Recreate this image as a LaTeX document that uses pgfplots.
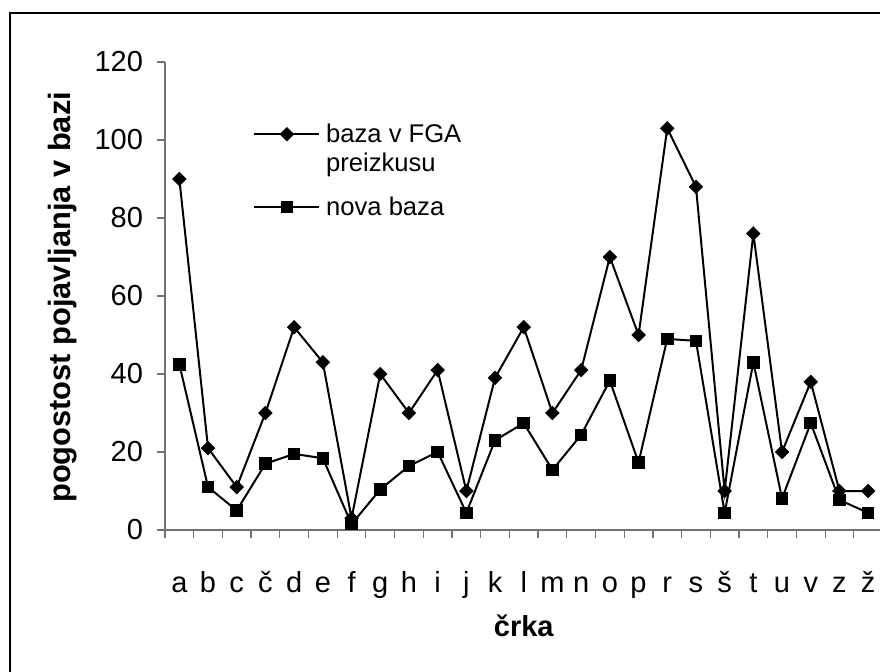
\documentclass[border=0pt]{standalone}
\usepackage{pgfplots}
\pgfplotsset{compat=1.18}
\usepackage{fontspec}
\setmainfont{Liberation Sans}
\begin{document}
\begin{tikzpicture}
\useasboundingbox (0,0) rectangle (440pt,335.5pt);
\clip (0,0) rectangle (440pt,335.5pt);
\draw[line width=0.6pt] (5pt,-20pt) rectangle (470pt,329pt);
\begin{axis}[
  at={(82.5pt,70.5pt)}, anchor=south west,
  scale only axis, width=358.75pt, height=234pt,
  xmin=0.5, xmax=25.5, ymin=0, ymax=120,
  axis x line*=bottom, axis y line*=left,
  axis line style={black!55, line width=0.6pt},
  tick align=outside,
  major tick length=4pt, minor tick length=4pt,
  ytick={0,20,...,120},
  major y tick style={black!55, line width=0.6pt},
  xtick={1,...,25},
  xticklabels={a,b,c,č,d,e,f,g,h,i,j,k,l,m,n,o,p,r,s,š,t,u,v,z,ž},
  major x tick style={draw=none},
  minor xtick={0.5,1.5,...,25.5},
  minor x tick style={black!55, line width=0.6pt},
  tick label style={font=\fontsize{14.5}{17}\selectfont},
  /pgf/number format/assume math mode=true,
  xticklabel style={anchor=base, yshift=-27pt},
  yticklabel style={xshift=-3.5pt},
  clip=false,
  ylabel={pogostost pojavljanja v bazi},
  ylabel style={at={(axis description cs:-0.1422,0.497)}, anchor=center, font=\fontsize{15.4}{18}\selectfont\bfseries},
  xlabel={črka},
  xlabel style={at={(axis description cs:0.5,-0.2286)}, anchor=base, font=\fontsize{14.5}{17}\selectfont\bfseries},
  legend style={draw=none, fill=none, at={(axis description cs:0.1226,0.871)}, anchor=north west,
    inner sep=0pt, row sep=25pt, column sep=2.9pt, nodes={inner sep=0pt},
    font=\fontsize{12.8}{14.2}\selectfont},
  legend cell align=left,
  legend image code/.code={\draw[mark repeat=2,mark phase=2] plot coordinates {(0pt,0pt) (16.25pt,0pt) (32.5pt,0pt)};},
]
\addplot[black, line width=1pt, mark=square*, mark size=2.3pt, mark options={rotate=45, solid, line width=0.5pt}] coordinates {
(1,90) (2,21) (3,11) (4,30) (5,52) (6,43) (7,3) (8,40) (9,30) (10,41) (11,10) (12,39) (13,52)
(14,30) (15,41) (16,70) (17,50) (18,103) (19,88) (20,10) (21,76) (22,20) (23,38) (24,10) (25,10)};
\addlegendentry{\begin{tabular}[t]{@{}l@{}}baza v FGA\\preizkusu\end{tabular}}
\addplot[black, line width=1pt, mark=square*, mark size=2.9pt, mark options={solid, line width=0.5pt}] coordinates {
(1,42.5) (2,11) (3,5) (4,17) (5,19.5) (6,18.4) (7,1.5) (8,10.4) (9,16.4) (10,20) (11,4.4) (12,23) (13,27.4)
(14,15.4) (15,24.4) (16,38.3) (17,17.3) (18,49) (19,48.5) (20,4.4) (21,43) (22,8.1) (23,27.4) (24,7.7) (25,4.4)};
\addlegendentry{\begin{tabular}[t]{@{}l@{}}nova baza\end{tabular}}
\end{axis}
\end{tikzpicture}
\end{document}
